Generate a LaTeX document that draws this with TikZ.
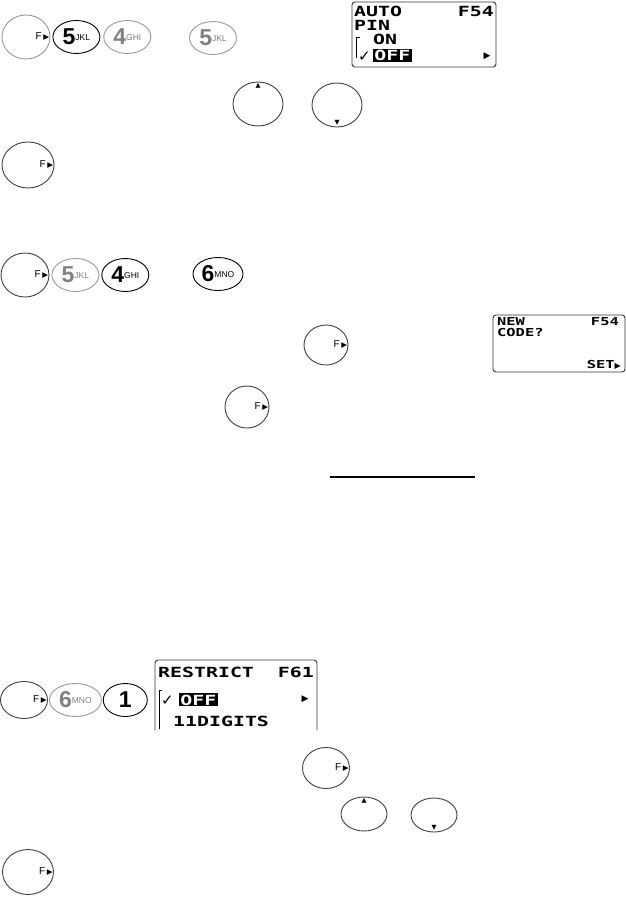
\documentclass[tikz,border=0pt]{standalone}
\usepackage{fontspec}
\setmainfont{Liberation Sans}
\newfontfamily\lcdfont[FakeStretch=1.42]{DejaVu Sans Mono}
\newfontfamily\lcdsfont[FakeStretch=1.4]{DejaVu Sans Mono}
\newfontfamily\symfont{DejaVu Sans}
\usetikzlibrary{positioning,shapes.geometric}

\newcommand{\digitkey}[2]{{\fontsize{23}{23}\selectfont\bfseries #1}\raisebox{4pt}{\fontsize{8.5}{8.5}\selectfont #2}}

\begin{document}
\begin{tikzpicture}[x=1pt, y=-1pt,
  key/.style={draw=black!75, line width=0.9pt, ellipse, inner sep=0pt},
  faded/.style={draw=black!40, text=black!50},
  fkey/.style={key, minimum width=48pt, minimum height=44pt,
    label={[anchor=east, inner sep=0pt, xshift=-1pt, font=\fontsize{10}{10}\selectfont]east:F\,{\symfont\fontsize{7.5}{7.5}\selectfont ▶}}},
  dkey/.style={key, minimum width=47pt, minimum height=33pt},
  upkey/.style={key, minimum width=50pt, minimum height=44pt,
    label={[anchor=north, inner sep=0pt, yshift=-1.5pt, font=\symfont\fontsize{6.5}{6.5}\selectfont]north:▲}},
  downkey/.style={key, minimum width=50pt, minimum height=44pt,
    label={[anchor=south, inner sep=0pt, yshift=1.5pt, font=\symfont\fontsize{6.5}{6.5}\selectfont]south:▼}},
  screen/.style={draw=black!80, line width=0.9pt, rounded corners=3pt, inner sep=0pt},
  lcd/.style={font=\lcdfont\bfseries\fontsize{14}{14}\selectfont, inner sep=0pt},
  lcds/.style={font=\lcdsfont\bfseries\fontsize{11}{11}\selectfont, inner sep=0pt},
  inv/.style={lcd, fill=black, text=white, inner sep=1.2pt},
  sym/.style={font=\symfont\fontsize{15}{15}\selectfont, inner sep=0pt}
]
  \useasboundingbox (0,0) rectangle (626,899);

  % row 1: F 5 4 / 5 and AUTO PIN screen
  \node[fkey, faded] (f1) at (26,37) {};
  \node[dkey, draw=black, right=2pt of f1] (k5a) {\digitkey{5}{JKL}};
  \node[dkey, faded, right=3pt of k5a] (k4a) {\digitkey{4}{GHI}};
  \node[dkey, faded] (k5b) at (213,38) {\digitkey{5}{JKL}};

  \node[screen, minimum width=144pt, minimum height=65pt] (scr1) at (424,34.5) {};
  \node[lcd, anchor=base west] (s1a) at (354,17) {AUTO};
  \node[lcd, anchor=base east] (s1b) at (494,17) {F54};
  \node[lcd, anchor=base west] (s1c) at (354,31) {PIN};
  \node[lcd, anchor=base west] (s1d) at (373,45) {ON};
  \draw[line width=0.8pt] (360,37) -- (356,37) -- (356,58);
  \node[sym, anchor=base west] (s1e) at (358,62) {✓};
  \node[inv, anchor=base west] (s1f) at (373,61) {OFF};
  \node[sym, font=\symfont\fontsize{9}{9}\selectfont] (s1g) at (487,56) {▶};

  % row 2
  \node[upkey] (up1) at (258,104) {};
  \node[downkey] (dn1) at (337,105) {};

  % row 3
  \node[fkey, minimum width=52pt, minimum height=46pt] (f2) at (28,165) {};

  % row 4: F 5 4 / 6
  \node[fkey] (f3) at (25,275) {};
  \node[dkey, faded, right=2pt of f3] (k5c) {\digitkey{5}{JKL}};
  \node[dkey, draw=black, right=2pt of k5c] (k4b) {\digitkey{4}{GHI}};
  \node[dkey, draw=black, minimum width=50pt] (k6a) at (218,274) {\digitkey{6}{MNO}};

  % row 5 and NEW CODE screen
  \node[fkey, minimum width=44pt, minimum height=40pt] (f4) at (326,345) {};
  \node[screen, minimum width=132pt, minimum height=57pt] (scr2) at (559,343.5) {};
  \node[lcds, anchor=base west] (s2a) at (497,325) {NEW};
  \node[lcds, anchor=base east] (s2b) at (619,325) {F54};
  \node[lcds, anchor=base west] (s2c) at (497,336) {CODE?};
  \node[lcds, anchor=base east] (s2d) at (621,368) {SET{\symfont\fontsize{8}{8}\selectfont ▶}};

  % row 6
  \node[fkey, minimum width=44pt, minimum height=42pt] (f5) at (247,407) {};
  \draw[line width=1.3pt] (330,477) -- (475,477);

  % row 7: F 6 1 and RESTRICT screen
  \node[fkey, minimum width=47pt, minimum height=37pt] (f6) at (24,700) {};
  \node[dkey, faded, minimum width=52pt, right=1pt of f6] (k6b) {\digitkey{6}{MNO}};
  \node[dkey, draw=black, minimum width=44pt, right=1pt of k6b] (k1) {{\fontsize{23}{23}\selectfont\bfseries 1}};

  \draw[draw=black!80, line width=0.9pt, rounded corners=3pt] (155,730) -- (155,660) -- (317,660) -- (317,730);
  \node[lcd, anchor=base west] (s3a) at (158,677) {RESTRICT};
  \node[lcd, anchor=base east] (s3b) at (314,677) {F61};
  \draw[line width=0.8pt] (162,690) -- (159,690) -- (159,729);
  \node[sym, anchor=base west] (s3c) at (161,705) {✓};
  \node[inv, anchor=base west] (s3d) at (179,705) {OFF};
  \node[sym, font=\symfont\fontsize{9}{9}\selectfont] (s3e) at (305,699) {▶};
  \node[lcd, anchor=base west] (s3f) at (173,726) {11DIGITS};

  % row 8
  \node[fkey, minimum width=47pt, minimum height=41pt] (f7) at (326,768) {};
  \node[upkey, minimum width=46pt, minimum height=34pt] (up2) at (364,814) {};
  \node[downkey, minimum width=46pt, minimum height=34pt] (dn2) at (434,815) {};

  % row 9
  \node[fkey, minimum width=51pt, minimum height=45pt] (f8) at (28,872) {};
\end{tikzpicture}
\end{document}
